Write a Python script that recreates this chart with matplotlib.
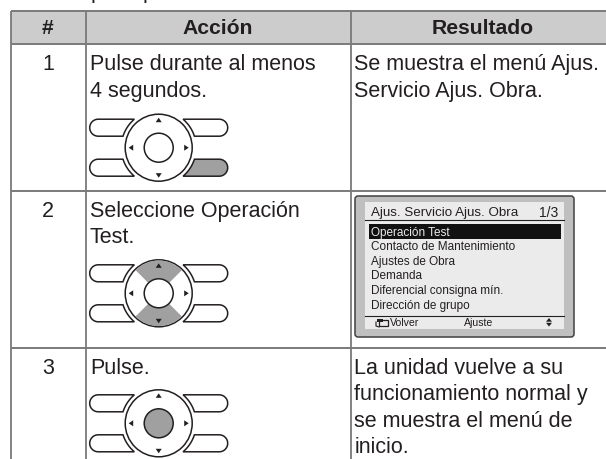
import numpy as np
import matplotlib
matplotlib.use("Agg")
import matplotlib.pyplot as plt
from matplotlib.patches import Circle, Polygon, Rectangle, FancyBboxPatch, Wedge

W, H = 606, 460
headers = ["#", "Acción", "Resultado"]
row_numbers = ["1", "2", "3"]
actions = [["Pulse durante al menos", "4 segundos."], ["Seleccione Operación", "Test."], ["Pulse."]]
results = [["Se muestra el menú Ajus.", "Servicio Ajus. Obra."], [],
           ["La unidad vuelve a su", "funcionamiento normal y", "se muestra el menú de", "inicio."]]
menu_title = "Ajus. Servicio Ajus. Obra"
menu_page = "1/3"
menu_items = ["Operación Test", "Contacto de Mantenimiento", "Ajustes de Obra",
              "Demanda", "Diferencial consigna mín.", "Dirección de grupo"]
menu_footer = ["Volver", "Ajuste"]

plt.rcParams["font.family"] = ["Liberation Sans", "DejaVu Sans"]
INK = "#231f20"
LINE = "#7a7a7a"
GREY = "#a0a0a0"
BODY = 15.5


def draw_pad(ax, cx, cy, pressed=None):
    """ control pad, pressed is one of: button, arrows, centre """
    for sx in (-1, 1):
        for sy in (-1, 1):
            # outer end is round, inner end follows the ring
            ys = np.linspace(11.5, 28.5, 12)
            inner = [(cx + sx * np.sqrt(37.5 ** 2 - y ** 2), cy + sy * y) for y in ys]
            t = np.linspace(-np.pi / 2, np.pi / 2, 24)
            outer = [(cx + sx * (60.5 + 8.5 * np.cos(a)), cy + sy * (20 + 8.5 * np.sin(a))) for a in t]
            if sy < 0:
                outer = outer[::-1]
            fill = GREY if pressed == "button" and sx == 1 and sy == 1 else "white"
            pts = inner + (outer[::-1] if sy > 0 else outer)
            ax.add_patch(Polygon(pts, closed=True, fc=fill, ec=INK, lw=1.1))
    ax.add_patch(Circle((cx, cy), 33.5, fc="white", ec=INK, lw=1.1))
    if pressed == "arrows":
        ax.add_patch(Wedge((cx, cy), 32.8, 45, 135, width=18, fc=GREY, ec="none"))
        ax.add_patch(Wedge((cx, cy), 32.8, 225, 315, width=18, fc=GREY, ec="none"))
    ax.add_patch(Circle((cx, cy), 14.5, fc=GREY if pressed == "centre" else "white", ec=INK, lw=1.1))
    for dx, dy in [(0, -27.5), (0, 27.5), (-27.5, 0), (27.5, 0)]:
        ux, uy = np.sign(dx), np.sign(dy)
        tip = (cx + dx + ux * 2.5, cy + dy + uy * 2.5)
        a = (cx + dx - ux * 2 + uy * 3, cy + dy - uy * 2 + ux * 3)
        b = (cx + dx - ux * 2 - uy * 3, cy + dy - uy * 2 - ux * 3)
        ax.add_patch(Polygon([tip, a, b], closed=True, fc=INK, ec="none"))


def draw_menu(ax):
    ax.add_patch(FancyBboxPatch((358, 200), 213, 135, boxstyle="round,pad=3,rounding_size=3",
                                fc="#bfbfbf", ec="#404040", lw=1.1))
    ax.add_patch(Rectangle((365, 203), 199, 127, fc="#ebebeb", ec="none"))
    ax.text(371, 213, menu_title, fontsize=9.6, color=INK, va="center")
    ax.text(558, 213, menu_page, fontsize=10, color=INK, va="center", ha="right")
    ax.plot([365, 564], [220.7, 220.7], color=INK, lw=0.8)
    ax.add_patch(Rectangle((369, 225), 192, 15, fc="#111111", ec="none"))
    for i, item in enumerate(menu_items):
        ax.text(371, 232.7 + i * 14.6, item, fontsize=8.5, color="#ebebeb" if i == 0 else INK, va="center")
    ax.plot([365, 564], [317, 317], color=INK, lw=0.8)
    ax.text(390, 323.3, menu_footer[0], fontsize=7.6, color=INK, va="center")
    ax.text(464, 323.3, menu_footer[1], fontsize=7.6, color=INK, va="center")
    # back icon
    ax.add_patch(Rectangle((379, 321), 9, 6, fc="none", ec=INK, lw=0.9))
    ax.add_patch(Rectangle((377, 319.5), 6, 3, fc=INK, ec="none"))
    ax.plot([376, 376, 379], [323, 327, 328], color=INK, lw=0.8)
    ax.add_patch(Polygon([(549, 319), (546, 322.7), (552, 322.7)], closed=True, fc=INK, ec="none"))
    ax.add_patch(Polygon([(549, 327.5), (546, 323.8), (552, 323.8)], closed=True, fc=INK, ec="none"))


fig = plt.figure(figsize=(W / 100, H / 100), dpi=100)
ax = fig.add_axes([0, 0, 1, 1])
ax.set_xlim(0, W)
ax.set_ylim(H, 0)
ax.axis("off")

col_x = [10.5, 86, 350.5]
row_y = [11.5, 45, 192, 349]
line_gap = 26.5

ax.add_patch(Rectangle((col_x[0], row_y[0]), W - col_x[0], row_y[1] - row_y[0], fc="#cccccc", ec="none"))
for x in col_x:
    ax.plot([x, x], [row_y[0], H], color=LINE, lw=1.3, solid_capstyle="butt")
for y in row_y:
    ax.plot([col_x[0], W], [y, y], color=LINE, lw=1.4, solid_capstyle="butt")

header_x = [48, 218, 483]
for hx, h in zip(header_x, headers):
    ax.text(hx, 29, h, fontsize=15.2, fontweight="bold", color=INK, ha="center", va="center")

for i in range(3):
    base = row_y[i + 1] + 25
    ax.text(48, base, row_numbers[i], fontsize=BODY, color=INK, ha="center", va="baseline")
    for j, line in enumerate(actions[i]):
        ax.text(90, base + j * line_gap, line, fontsize=BODY, color=INK, va="baseline")
    for j, line in enumerate(results[i]):
        ax.text(354.5, base + j * line_gap, line, fontsize=BODY, color=INK, va="baseline")

draw_pad(ax, 158.7, 148.7, "button")
draw_pad(ax, 158.7, 294.3, "arrows")
draw_pad(ax, 158.7, 424.3, "centre")
draw_menu(ax)

# descenders of the text line cut off above the table
for x in (90.5, 142.5):
    ax.text(x, -2, "p", fontsize=BODY, color=INK, va="baseline")

fig.savefig("out.png", dpi=100)
